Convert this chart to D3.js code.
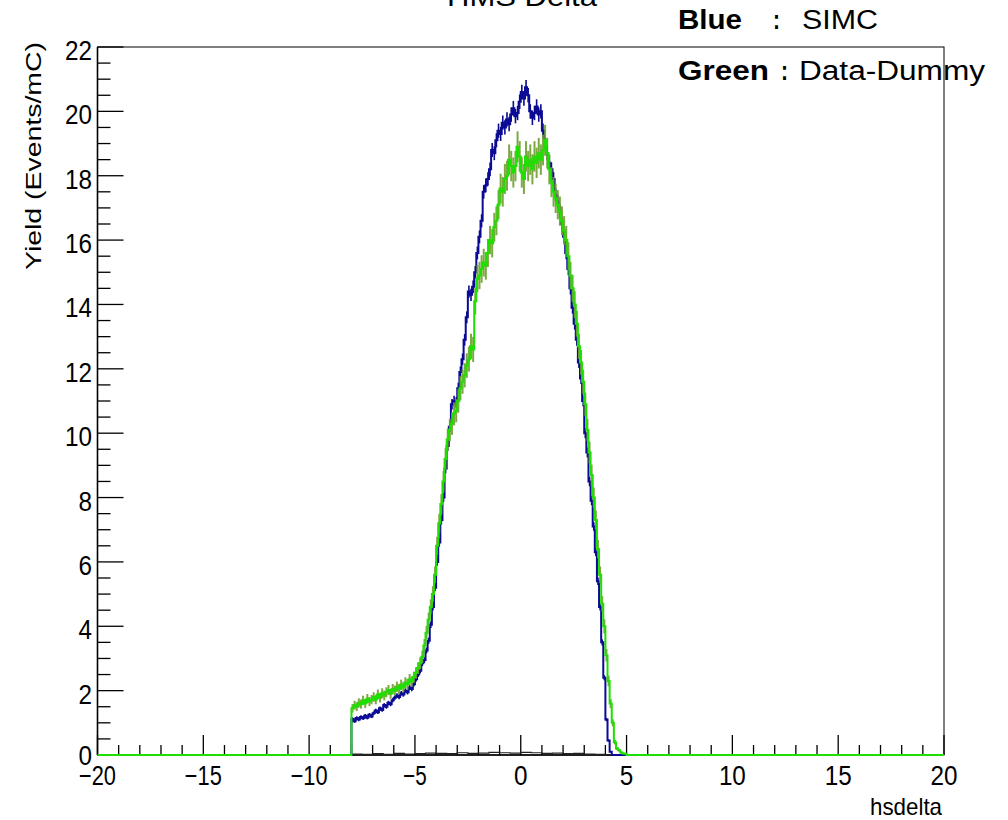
<!DOCTYPE html>
<html><head><meta charset="utf-8">
<script src="https://cdn.jsdelivr.net/npm/d3@7"></script>
<style>body{margin:0;background:#fff}svg{display:block}text{font-family:"Liberation Sans",Arial,sans-serif}</style>
</head><body>
<svg id="c" width="1008" height="820"></svg>
<script>
// Histogram bins: width 0.1, from -8.0 to 5.0
const binStart = -8.0;
const binWidth = 0.1;
const simc = [
 1.12,1.05,1.15,1.10,1.18,1.14,1.22,1.16,1.25,1.20,
 1.30,1.38,1.33,1.45,1.40,1.55,1.50,1.62,1.58,1.70,
 1.78,1.85,1.80,1.92,1.88,2.00,1.95,2.10,2.05,2.20,
 2.35,2.50,2.62,2.85,2.95,3.25,3.55,4.05,4.60,5.20,
 6.00,6.60,7.30,8.00,8.90,9.60,10.20,10.90,11.00,10.95,
 11.40,11.90,12.30,12.90,13.60,14.40,14.30,14.55,15.00,15.60,
 16.10,16.60,17.50,17.70,17.90,18.20,18.80,18.70,19.10,19.40,
 19.30,19.65,19.50,19.75,19.60,19.90,20.10,19.85,19.95,20.30,
 20.60,20.40,20.75,20.50,20.00,19.80,19.95,20.15,19.90,20.00,
 19.40,19.00,18.70,18.40,18.20,17.90,17.40,17.20,16.90,16.50,
 16.10,15.60,15.10,14.50,13.90,13.40,12.90,12.20,11.70,11.00,
 10.00,9.40,8.50,7.90,7.10,6.30,5.40,4.60,3.50,2.40,
 1.10,0.45,0.10,0,0,0,0,0,0,0
];
const dataDummy = [
 1.45,1.55,1.50,1.62,1.58,1.70,1.60,1.75,1.66,1.72,
 1.80,1.72,1.88,1.78,1.92,1.85,1.95,2.02,1.90,2.05,
 2.00,2.12,2.05,2.18,2.10,2.25,2.20,2.35,2.28,2.42,
 2.55,2.70,2.85,3.05,3.40,3.80,4.20,4.60,5.00,5.60,
 6.50,7.20,7.80,8.50,9.20,9.80,10.10,10.30,10.60,10.70,
 11.00,11.40,11.60,11.80,12.10,12.30,12.70,12.60,14.10,14.80,
 14.90,15.10,15.30,15.20,15.60,16.00,15.90,16.40,16.60,17.10,
 17.60,17.50,17.90,18.00,18.50,18.30,18.10,18.30,18.90,18.60,
 18.10,17.90,18.60,18.30,18.50,18.20,18.60,18.40,18.70,18.50,
 18.80,19.10,18.70,18.20,17.80,17.50,17.30,17.10,16.90,16.60,
 16.30,16.00,15.50,14.90,14.50,14.00,13.40,12.70,12.20,11.60,
 10.90,10.10,9.40,8.70,8.00,7.30,6.40,5.60,4.70,4.00,
 3.10,2.30,1.60,1.00,0.40,0.20,0.15,0.08,0.05,0.04
];
// dummy histogram (near zero), bins of 0.5 from -8 to 5
const dummyStart = -8.0;
const dummyWidth = 0.5;
const dummy = [0.03,0.02,0.04,0.02,0.05,0.03,0.04,0.06,0.05,0.04,0.07,0.05,0.06,0.08,0.07,0.06,0.08,0.07,0.05,0.06,0.04,0.05,0.03,0.02,0.01,0.0];

const xDomain = [-20, 20];
const yDomain = [0, 22];
const xMajor = [-20,-15,-10,-5,0,5,10,15,20];
const yMajor = [0,2,4,6,8,10,12,14,16,18,20,22];
const titleText = "HMS Delta";
const xTitle = "hsdelta";
const yTitle = "Yield (Events/mC)";

const svg = d3.select("#c");
const xs = d3.scaleLinear().domain(xDomain).range([97.5, 944]);
const ys = d3.scaleLinear().domain(yDomain).range([755, 47]);

function histPoints(vals, start, w){
  const pts = [{x: xDomain[0], y: 0}];
  vals.forEach((v,i)=>pts.push({x: start + i*w, y: v}));
  pts.push({x: start + vals.length*w, y: 0});
  pts.push({x: xDomain[1], y: 0});
  return pts;
}
const line = d3.line().x(d=>xs(d.x)).y(d=>ys(d.y)).curve(d3.curveStepAfter);

// frame
svg.append("rect").attr("x", xs(-20)).attr("y", ys(22)).attr("width", xs(20)-xs(-20)).attr("height", ys(0)-ys(22))
  .attr("fill","none").attr("stroke","#000").attr("stroke-width",1);

// ticks
const minorX = d3.range(-20, 20.001, 1);
svg.append("g").selectAll("line").data(minorX).join("line")
  .attr("x1", d=>xs(d)).attr("x2", d=>xs(d))
  .attr("y1", ys(0)).attr("y2", d=> (Math.abs(d%5)<1e-9) ? ys(0)-20 : ys(0)-10)
  .attr("stroke","#000").attr("stroke-width",1.3);
const minorY = d3.range(0, 22.001, 0.5);
svg.append("g").selectAll("line").data(minorY).join("line")
  .attr("y1", d=>ys(d)).attr("y2", d=>ys(d))
  .attr("x1", xs(-20)).attr("x2", d=> (Math.abs(d%2)<1e-9) ? xs(-20)+26 : xs(-20)+13)
  .attr("stroke","#000").attr("stroke-width",1.3);
// axis lines
svg.append("line").attr("x1",xs(-20)).attr("x2",xs(-20)).attr("y1",ys(0)).attr("y2",ys(22)).attr("stroke","#000").attr("stroke-width",1.6);
svg.append("line").attr("x1",xs(-20)).attr("x2",xs(20)).attr("y1",ys(0)).attr("y2",ys(0)).attr("stroke","#000").attr("stroke-width",1.6);

// tick labels
function lenFor(s){ let L=0; for(const ch of s){ L += (ch==="-"||ch==="\u2212") ? 10 : 13.5; } return L; }
svg.append("g").selectAll("text").data(xMajor).join("text")
  .attr("x", d=>xs(d)).attr("y", 785).attr("text-anchor","middle")
  .attr("font-size", 27).attr("fill","#000")
  .attr("textLength", d=>lenFor(String(d))).attr("lengthAdjust","spacingAndGlyphs")
  .text(d=> d<0 ? "\u2212"+Math.abs(d) : String(d));
svg.append("g").selectAll("text").data(yMajor).join("text")
  .attr("x", 92).attr("y", d=>ys(d)+(d===0 ? 10 : 13)).attr("text-anchor","end")
  .attr("font-size", 27).attr("fill","#000")
  .attr("textLength", d=>lenFor(String(d))).attr("lengthAdjust","spacingAndGlyphs")
  .text(d=>String(d));

// dummy histogram
svg.append("path").attr("d", line(histPoints(dummy, dummyStart, dummyWidth)))
  .attr("fill","none").attr("stroke","#222").attr("stroke-width",1.2);

// SIMC (blue)
const simcErr = simc.map(v=>0.05*Math.sqrt(v));
svg.append("g").selectAll("line").data(simc).join("line")
  .attr("x1",(d,i)=>xs(binStart+(i+0.5)*binWidth)).attr("x2",(d,i)=>xs(binStart+(i+0.5)*binWidth))
  .attr("y1",(d,i)=>ys(d+simcErr[i])).attr("y2",(d,i)=>ys(Math.max(0,d-simcErr[i])))
  .attr("stroke","#0a0a8c").attr("stroke-width",1.6);
svg.append("path").attr("d", line(histPoints(simc, binStart, binWidth)))
  .attr("fill","none").attr("stroke","#0a0a96").attr("stroke-width",2);

// Data-Dummy (green)
const ddErr = dataDummy.map(v=>0.11*Math.sqrt(v));
svg.append("g").selectAll("line").data(dataDummy).join("line")
  .attr("x1",(d,i)=>xs(binStart+(i+0.5)*binWidth)).attr("x2",(d,i)=>xs(binStart+(i+0.5)*binWidth))
  .attr("y1",(d,i)=>ys(d+ddErr[i])).attr("y2",(d,i)=>ys(Math.max(0,d-ddErr[i])))
  .attr("stroke","#6fa030").attr("stroke-width",2).attr("opacity",0.9);
svg.append("path").attr("d", line(histPoints(dataDummy, binStart, binWidth)))
  .attr("fill","none").attr("stroke","#1ee000").attr("stroke-width",2);

// titles
svg.append("text").attr("x",522).attr("y",6).attr("text-anchor","middle").attr("font-size",27)
  .attr("textLength",150).attr("lengthAdjust","spacingAndGlyphs").text(titleText);
svg.append("text").attr("x",870).attr("y",815).attr("font-size",24)
  .attr("textLength",72).attr("lengthAdjust","spacingAndGlyphs").text(xTitle);
svg.append("text").attr("transform","translate(41,156) rotate(-90)").attr("text-anchor","middle")
  .attr("font-size",22).attr("textLength",228).attr("lengthAdjust","spacingAndGlyphs").text(yTitle);

// legend text
function seg(x,y,txt,len,bold){
  svg.append("text").attr("x",x).attr("y",y).attr("font-size",27)
    .attr("font-weight", bold ? "bold" : "normal")
    .attr("textLength",len).attr("lengthAdjust","spacingAndGlyphs").text(txt);
}
seg(678,29,"Blue",64,true);
seg(773,29,":",7,true);
seg(802,29,"SIMC",76,false);
seg(678,80,"Green",91,true);
seg(781,80,":",7,true);
seg(799,80,"Data-Dummy",186,false);
</script>
</body></html>
